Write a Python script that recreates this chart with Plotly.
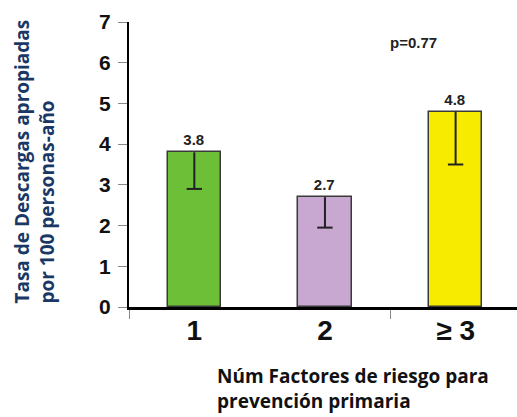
import plotly.graph_objects as go

# Rates of appropriate shocks per 100 person-years by number of risk factors
categories = ["1", "2", "\u2265 3"]
rates = [3.8, 2.7, 4.8]
lower_ci = [2.9, 1.95, 3.5]
bar_colors = ["#6cbf37", "#c8a7d1", "#f7ec00"]
y_ticks = [0, 1, 2, 3, 4, 5, 6, 7]
p_value_text = "p=0.77"

x_pos = list(range(len(categories)))

fig = go.Figure()
fig.add_trace(go.Bar(
    x=x_pos,
    y=rates,
    width=0.41,
    marker=dict(color=bar_colors, line=dict(color="#3a3a3a", width=1.5)),
    text=[f"{r:.1f}" for r in rates],
    textposition="outside",
    textfont=dict(family="Arial", size=15, color="#222222", weight="bold"),
    cliponaxis=False,
))

# Lower error whiskers: a stem from each bar top down to the lower bound, with a cap
stem_x, stem_y = [], []
for xi, r, lo in zip(x_pos, rates, lower_ci):
    stem_x += [xi, xi, None]
    stem_y += [r, lo, None]
fig.add_trace(go.Scatter(
    x=stem_x, y=stem_y, mode="lines",
    line=dict(color="#222222", width=2), hoverinfo="skip",
))
fig.add_trace(go.Scatter(
    x=x_pos, y=lower_ci, mode="markers",
    marker=dict(symbol="line-ew", size=11, line=dict(color="#222222", width=2)),
    hoverinfo="skip",
))

fig.update_layout(
    width=517, height=417,
    margin=dict(l=129, r=0, t=22, b=110),
    paper_bgcolor="white", plot_bgcolor="white",
    showlegend=False,
    bargap=0,
    xaxis=dict(
        range=[-0.5, 2.47],
        tickmode="array", tickvals=x_pos, ticktext=categories,
        ticks="", showgrid=False, zeroline=False,
        showline=True, linecolor="black", linewidth=3,
        tickfont=dict(family="Arial", size=28, color="#111111", weight="bold"),
        ticklabelstandoff=-4,
        minor=dict(tickmode="array", tickvals=[-0.5, 1.5], ticks="outside",
                   ticklen=9, tickcolor="#888888", tickwidth=1, showgrid=False),
    ),
    yaxis=dict(
        range=[0, 7],
        tickmode="array", tickvals=y_ticks,
        ticks="outside", ticklen=9, tickcolor="#888888", tickwidth=1,
        showgrid=False, zeroline=False,
        showline=True, linecolor="black", linewidth=2,
        tickfont=dict(family="Arial", size=21, color="#111111", weight="bold"),
        ticklabelstandoff=3,
    ),
    annotations=[
        dict(text=p_value_text, x=1.68, y=6.5, xref="x", yref="y",
             showarrow=False,
             font=dict(family="Arial", size=15, color="#222222", weight="bold")),
        dict(text="Tasa de Descargas apropiadas<br>por 100 personas-año",
             textangle=-90, align="left",
             x=0, xref="paper", xanchor="center", xshift=-94,
             y=0.005, yref="paper", yanchor="bottom",
             showarrow=False,
             font=dict(family="Open Sans", size=19, color="#1a3866", weight="bold")),
        dict(text="Núm Factores de riesgo para<br>prevención primaria",
             align="left",
             x=0.222, xref="paper", xanchor="left",
             y=-0.19, yref="paper", yanchor="top",
             showarrow=False,
             font=dict(family="Open Sans", size=19, color="#111111", weight="bold")),
    ],
)

fig.write_html("out.html")
